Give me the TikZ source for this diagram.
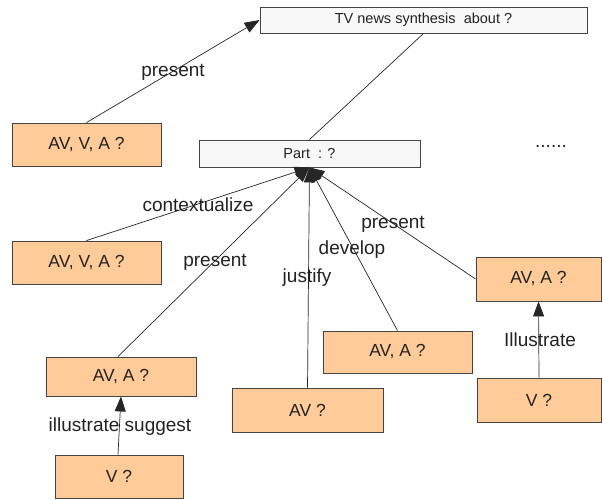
\documentclass[tikz,border=0pt]{standalone}
\usepackage{fontspec}
\setmainfont{Liberation Sans}
\usetikzlibrary{arrows.meta}
\definecolor{peach}{HTML}{FFCC99}
\definecolor{pale}{HTML}{F8F8F8}
\definecolor{edge}{HTML}{444444}
\definecolor{txt}{HTML}{222222}
\begin{document}
\begin{tikzpicture}[x=1pt,y=-1pt,
  box/.style={draw=edge,line width=0.9pt,fill=peach,inner sep=0pt,text=txt,font=\fontsize{17.5}{19}\selectfont},
  titlebox/.style={draw=edge,line width=0.9pt,fill=pale,inner sep=0pt,text=txt,font=\fontsize{14.5}{16}\selectfont},
  lbl/.style={text=txt,inner sep=0pt,font=\fontsize{19}{21}\selectfont},
  conn/.style={draw=black!85,line width=0.7pt},
  arr/.style={conn,-{Triangle[length=15pt,width=11pt]}}]
\useasboundingbox (0,0) rectangle (602,499);
\node[titlebox,minimum width=327pt,minimum height=26pt] (top) at (423.5,20) {TV news synthesis\ \ about ?};
\node[titlebox,minimum width=221pt,minimum height=27pt] (part) at (309.5,153.5) {Part\ \ : ?};
\node[box,minimum width=149pt,minimum height=43pt] (l1) at (86.5,144.5) {AV, V, A ?};
\node[box,minimum width=149pt,minimum height=43pt] (l2) at (86.5,262.5) {AV, V, A ?};
\node[box,minimum width=150pt,minimum height=39pt] (ava1) at (121,376.5) {AV, A ?};
\node[box,minimum width=128pt,minimum height=43pt] (v1) at (119,476.5) {V ?};
\node[box,minimum width=151pt,minimum height=44pt] (av) at (307.5,410) {AV ?};
\node[box,minimum width=149pt,minimum height=42pt] (ava2) at (397.5,352) {AV, A ?};
\node[box,minimum width=125pt,minimum height=44pt] (ava3) at (538.5,279) {AV, A ?};
\node[box,minimum width=124pt,minimum height=44pt] (v3) at (539,400) {V ?};
\node[lbl] (dots) at (551,146) {......};
% connectors
\draw[arr] (l1.north) -- (top.west);
\draw[conn] (part.north) -- (top.south);
\draw[arr] (l2.north) -- (part.south);
\draw[arr] ([xshift=-3pt]ava1.north) -- (part.south);
\draw[arr] (av.north) -- (part.south);
\draw[arr] (ava2.north) -- (part.south);
\draw[arr] (ava3.west) -- (part.south);
\draw[arr] ([xshift=-1pt]v1.north) -- (ava1.south);
\draw[arr] (v3.north) -- (ava3.south);
% labels
\node[lbl] (lp1) at (173,72) {present};
\node[lbl] (lctx) at (198,205) {contextualize};
\node[lbl] (lp2) at (215,262) {present};
\node[lbl] (ljus) at (307,278) {justify};
\node[lbl] (ldev) at (352,250) {develop};
\node[lbl] (lp3) at (393,224) {present};
\node[lbl] (lill) at (540,340) {Illustrate};
\node[lbl] (lis) at (120,427) {illustrate suggest};
\end{tikzpicture}
\end{document}
